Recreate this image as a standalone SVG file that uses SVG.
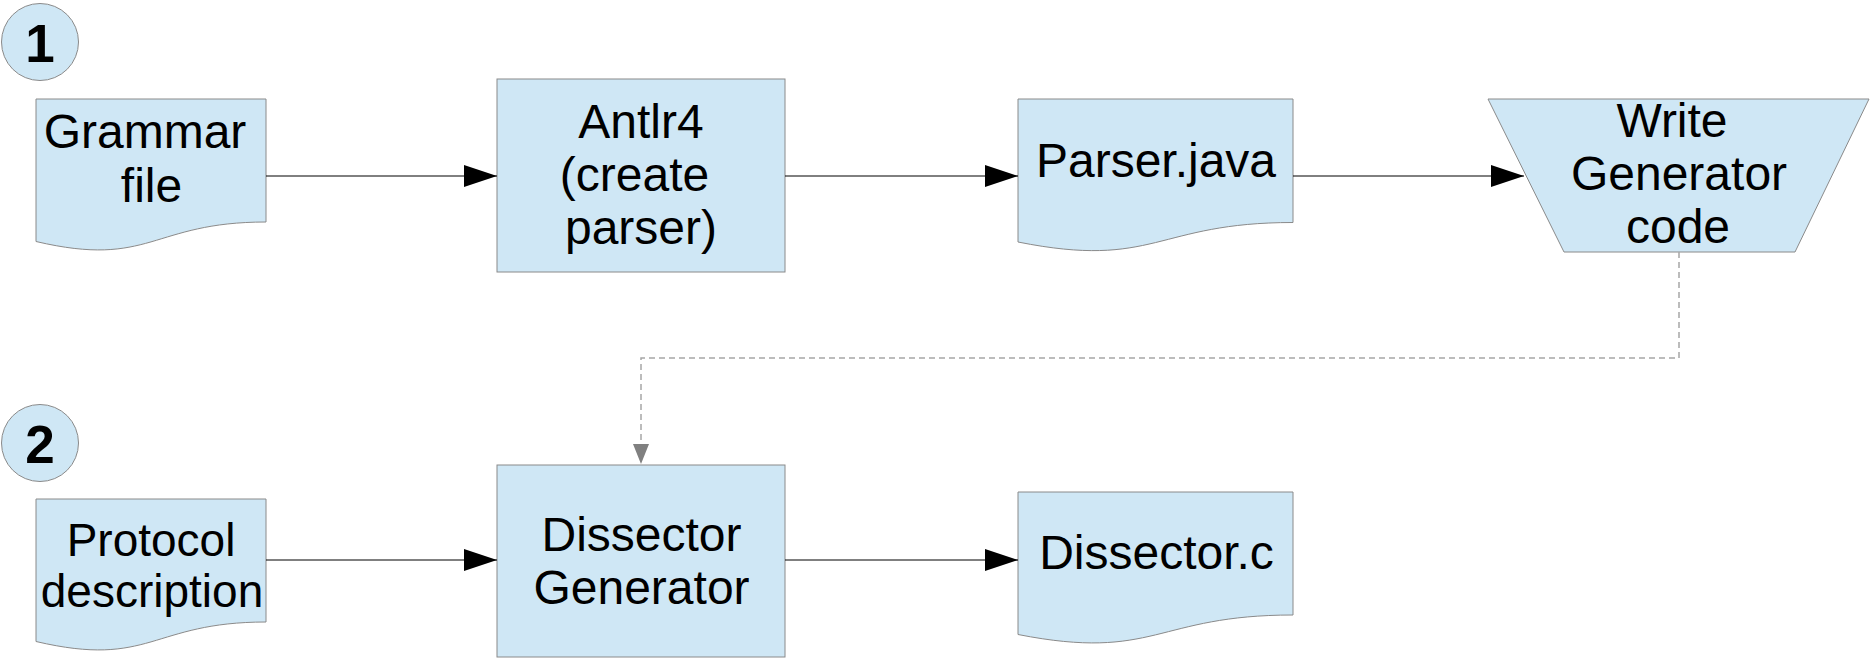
<svg xmlns="http://www.w3.org/2000/svg" width="1874" height="659" viewBox="0 0 1874 659">
<style>
.shape{fill:#cfe7f5;stroke:#8a8a8a;stroke-width:1}
.lbl{font-family:"Liberation Sans",Arial,sans-serif;font-size:48px;fill:#000;text-anchor:middle}
.sm{font-size:46px}
.num{font-family:"Liberation Sans",Arial,sans-serif;font-size:53px;font-weight:bold;fill:#000;text-anchor:middle}
.conn{fill:none;stroke:#000;stroke-width:1}
.dash{fill:none;stroke:#a6a6a6;stroke-width:1.5;stroke-dasharray:6 4}
</style>
<defs>
<marker id="ah" markerUnits="userSpaceOnUse" markerWidth="33" markerHeight="24" refX="33" refY="12" orient="auto">
<path d="M0,1 L33,12 L0,23 Z" fill="#000"/>
</marker>
<marker id="ahg" markerUnits="userSpaceOnUse" markerWidth="20" markerHeight="16" refX="20" refY="8" orient="auto">
<path d="M0,0 L20,8 L0,16 Z" fill="#808080"/>
</marker>
</defs>
<rect width="1874" height="659" fill="#fff"/>
<g id="step1">
<circle class="shape" cx="40" cy="42" r="38.5"/>
<text class="num" x="40" y="62">1</text>
</g>
<g id="step2">
<circle class="shape" cx="40" cy="443" r="38.5"/>
<text class="num" x="40" y="463">2</text>
</g>
<g id="grammar">
<path class="shape" d="M36,99 H266 V222 C151,222 151,268.5 36,241.5 Z"/>
<text class="lbl" x="145" y="148">Grammar</text>
<text class="lbl" x="151.5" y="202">file</text>
</g>
<g id="antlr">
<rect class="shape" x="497" y="79" width="288" height="193"/>
<text class="lbl" x="641" y="138">Antlr4</text>
<text class="lbl" x="634.5" y="191">(create</text>
<text class="lbl" x="641" y="244">parser)</text>
</g>
<g id="parser">
<path class="shape" d="M1018,99 H1293 V222.5 C1155.5,222.5 1155.5,269.5 1018,242 Z"/>
<text class="lbl" x="1156" y="177">Parser.java</text>
</g>
<g id="writegen">
<path class="shape" d="M1488,99 H1869 L1795,252 H1564 Z"/>
<text class="lbl" x="1672" y="137">Write</text>
<text class="lbl" x="1679" y="190">Generator</text>
<text class="lbl" x="1678" y="243">code</text>
</g>
<g id="protocol">
<path class="shape" d="M36,499 H266 V622 C151,622 151,668.5 36,641.5 Z"/>
<text class="lbl sm" x="151" y="556">Protocol</text>
<text class="lbl sm" x="152" y="607">description</text>
</g>
<g id="dissgen">
<rect class="shape" x="497" y="465" width="288" height="192"/>
<text class="lbl" x="641.5" y="551">Dissector</text>
<text class="lbl" x="641.5" y="604">Generator</text>
</g>
<g id="dissc">
<path class="shape" d="M1018,492 H1293 V615 C1155.5,615 1155.5,661.5 1018,634.5 Z"/>
<text class="lbl" x="1156.5" y="569">Dissector.c</text>
</g>
<g id="connectors">
<path class="conn" d="M266,176 H497" marker-end="url(#ah)"/>
<path class="conn" d="M785,176 H1018" marker-end="url(#ah)"/>
<path class="conn" d="M1293,176 H1524" marker-end="url(#ah)"/>
<path class="conn" d="M266,560 H497" marker-end="url(#ah)"/>
<path class="conn" d="M785,560 H1018" marker-end="url(#ah)"/>
<path class="dash" d="M1679,252 V358 H641 V464" marker-end="url(#ahg)"/>
</g>
</svg>
